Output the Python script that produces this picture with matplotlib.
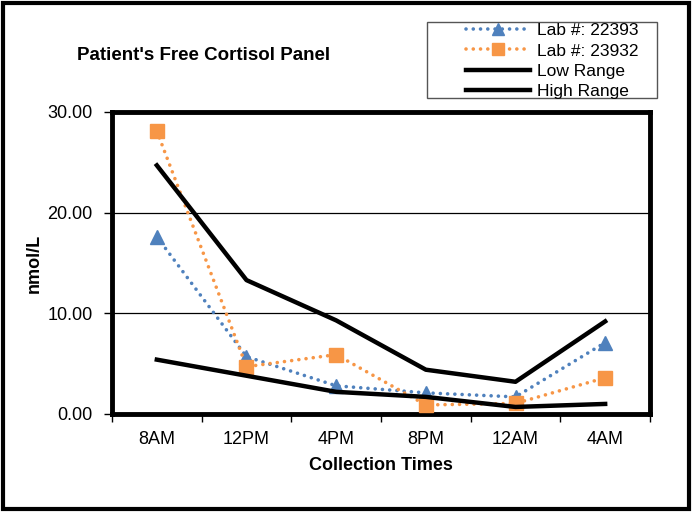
import matplotlib
matplotlib.use("Agg")
import matplotlib.pyplot as plt
from matplotlib.patches import Rectangle
import numpy as np

plt.rcParams['font.family'] = ['Liberation Sans', 'DejaVu Sans']

# data
times = ["8AM", "12PM", "4PM", "8PM", "12AM", "4AM"]
lab_22393 = [17.6, 5.7, 2.8, 2.1, 1.7, 7.1]
lab_23932 = [28.1, 4.7, 5.9, 0.9, 1.05, 3.6]
low_range = [5.4, 3.8, 2.2, 1.7, 0.7, 1.0]
high_range = [24.7, 13.3, 9.3, 4.4, 3.2, 9.2]

blue = "#4F81BD"
orange = "#F79646"
dots = (0, (0.01, 2.0))

fig = plt.figure(figsize=(6.92, 5.12), dpi=100)
ax = fig.add_axes([112/692, 1-414/512, 538/692, 302/512])

x = np.arange(len(times))
ax.plot(x, lab_22393, color=blue, linestyle=dots, linewidth=2.6,
        dash_capstyle='round', marker='^', markersize=10, label="Lab #: 22393", zorder=3)
ax.plot(x, lab_23932, color=orange, linestyle=dots, linewidth=2.6,
        dash_capstyle='round', marker='s', markersize=10, label="Lab #: 23932", zorder=3)
ax.plot(x, low_range, color='black', linewidth=3.2, label="Low Range", zorder=4)
ax.plot(x, high_range, color='black', linewidth=3.2, label="High Range", zorder=4)

ax.set_xlim(-0.5, len(times) - 0.5)
ax.set_ylim(0, 30)
ax.set_yticks([0, 10, 20, 30])
ax.set_yticklabels(["0.00", "10.00", "20.00", "30.00"], fontsize=13)
ax.set_xticks(x)
ax.set_xticklabels(times, fontsize=13)
ax.set_xticks(np.arange(-0.5, len(times)), minor=True)
ax.tick_params(axis='x', which='major', length=0, pad=12)
ax.tick_params(axis='x', which='minor', length=6, direction='out', width=1)
ax.tick_params(axis='y', length=6, direction='out', width=1, pad=8)

for yv in [10, 20]:
    ax.axhline(yv, color='black', linewidth=0.9, zorder=1)

for sp in ax.spines.values():
    sp.set_linewidth(3.5)

ax.set_xlabel("Collection Times", fontsize=13, fontweight='bold', labelpad=7)
ax.set_ylabel("nmol/L", fontsize=13, fontweight='bold', labelpad=3)

fig.text(204/692, 1-55/512, "Patient's Free Cortisol Panel", fontsize=13.5,
         fontweight='bold', ha='center', va='center')

leg = fig.legend(loc='upper left', bbox_to_anchor=(466/692, 1-23/512),
                 fontsize=12.5, frameon=False,
                 handlelength=3.7, handletextpad=0.4, labelspacing=0.3,
                 borderpad=0, borderaxespad=0, markerscale=0.8)

# legend box
fig.patches.append(Rectangle((427/692, 1-98/512), 230/692, 76/512, transform=fig.transFigure,
                             fill=False, edgecolor='#555555', linewidth=1.0))

# outer border of the picture
fig.patches.append(Rectangle((3/692, 3/512), 686/692, 506/512, transform=fig.transFigure,
                             fill=False, edgecolor='black', linewidth=3))

fig.savefig("out.png", dpi=100)
